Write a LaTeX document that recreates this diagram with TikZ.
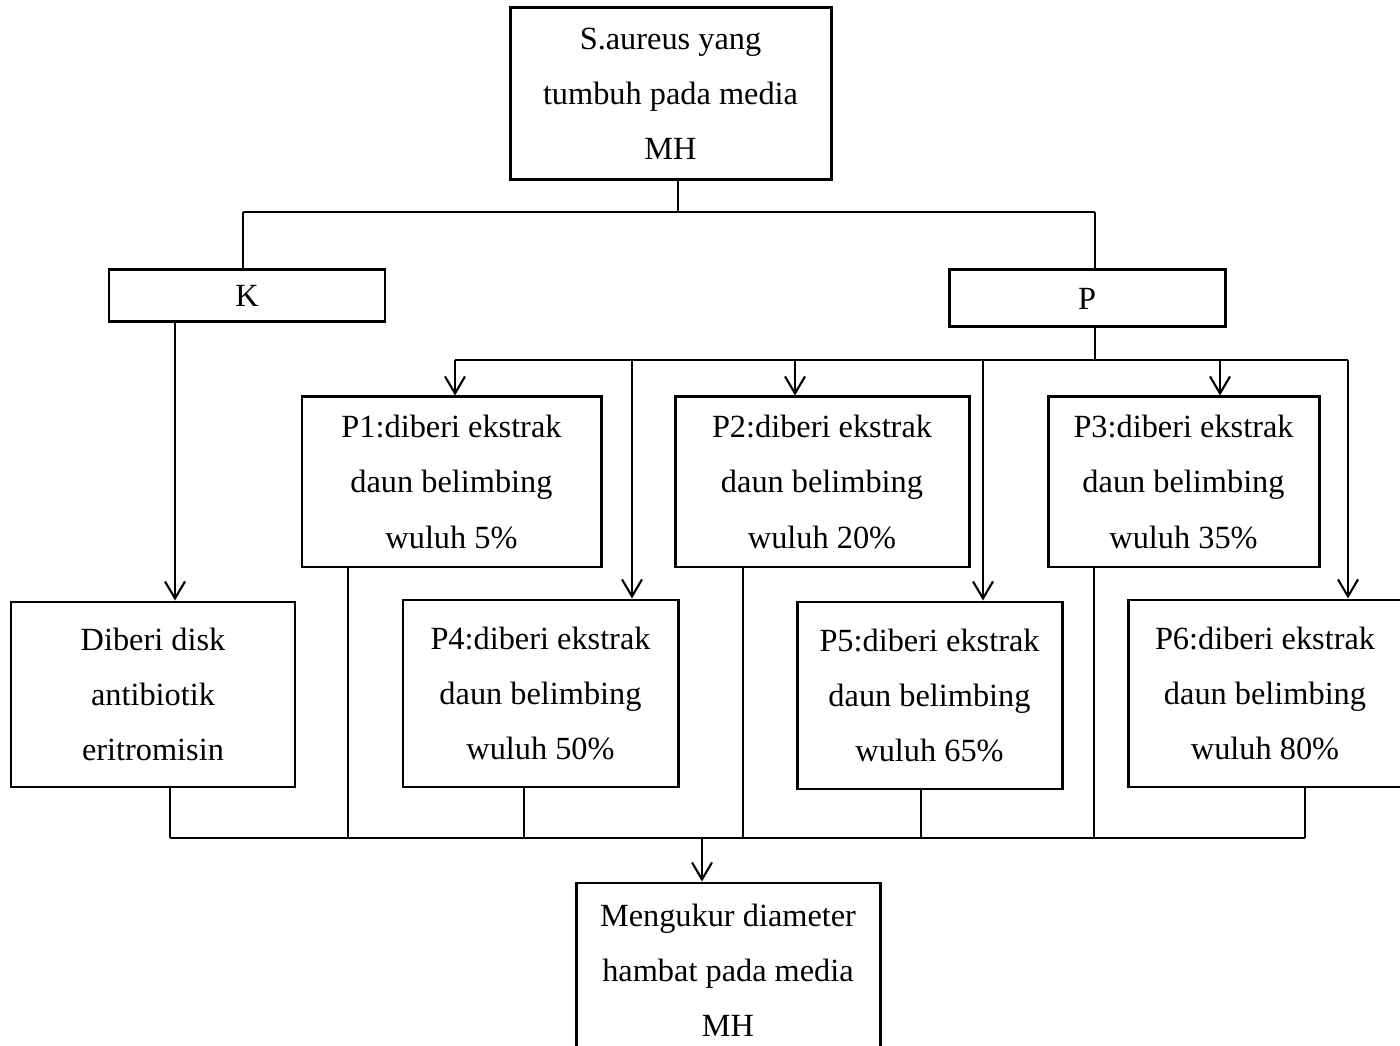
\documentclass[tikz,border=0pt]{standalone}
\usepackage{fontspec}
\setmainfont{Liberation Serif}
\usetikzlibrary{arrows.meta}
\tikzset{
  block/.style={draw, line width=0.85pt, align=center, inner sep=0pt,
                font=\fontsize{9.2}{15.65}\selectfont},
  link/.style={line width=0.6pt},
  flow/.style={link, -{Straight Barb[length=1.7mm, width=2mm]}},
}

\begin{document}
\begin{tikzpicture}
  \useasboundingbox (0,0) rectangle (14,-10.46);

  \node[block, minimum width=3.21cm, minimum height=1.72cm] (top) at (6.705,-0.94)
    {S.aureus yang\\tumbuh pada media\\MH};
  \node[block, minimum width=2.76cm, minimum height=0.52cm] (K) at (2.47,-2.96) {K};
  \node[block, minimum width=2.76cm, minimum height=0.57cm] (P) at (10.87,-2.985) {P};

  \node[block, minimum width=2.99cm, minimum height=1.70cm] (P1) at (4.515,-4.82)
    {P1:diberi ekstrak\\daun belimbing\\wuluh 5\%};
  \node[block, minimum width=2.94cm, minimum height=1.70cm] (P2) at (8.22,-4.82)
    {P2:diberi ekstrak\\daun belimbing\\wuluh 20\%};
  \node[block, minimum width=2.71cm, minimum height=1.70cm] (P3) at (11.835,-4.82)
    {P3:diberi ekstrak\\daun belimbing\\wuluh 35\%};

  \node[block, minimum width=2.84cm, minimum height=1.85cm] (disk) at (1.53,-6.945)
    {Diberi disk\\antibiotik\\eritromisin};
  \node[block, minimum width=2.75cm, minimum height=1.87cm] (P4) at (5.405,-6.935)
    {P4:diberi ekstrak\\daun belimbing\\wuluh 50\%};
  \node[block, minimum width=2.65cm, minimum height=1.87cm] (P5) at (9.295,-6.955)
    {P5:diberi ekstrak\\daun belimbing\\wuluh 65\%};
  \node[block, minimum width=2.74cm, minimum height=1.87cm] (P6) at (12.65,-6.935)
    {P6:diberi ekstrak\\daun belimbing\\wuluh 80\%};

  \node[block, minimum width=3.04cm, minimum height=1.74cm] (ukur) at (7.28,-9.70)
    {Mengukur diameter\\hambat pada media\\MH};

  \coordinate (tj) at (6.78,-2.12);
  \coordinate (kj) at (2.43,-2.12);
  \coordinate (pj) at (10.95,-2.12);
  \draw[link] (top.south -| tj) -- (tj);
  \draw[link] (kj) -- (pj);
  \draw[link] (kj) -- (kj |- K.north);
  \draw[link] (pj) -- (pj |- P.north);

  \coordinate (kd) at (1.75,0);
  \draw[flow] (K.south -| kd) -- (disk.north -| kd);

  \coordinate (pb) at (10.95,-3.60);
  \coordinate (b1) at (4.55,-3.60);
  \coordinate (b2) at (7.95,-3.60);
  \coordinate (b3) at (12.20,-3.60);
  \coordinate (b4) at (6.32,-3.60);
  \coordinate (b5) at (9.83,-3.60);
  \coordinate (b6) at (13.48,-3.60);
  \draw[link] (P.south -| pb) -- (pb);
  \draw[link] (b1) -- (b6);
  \foreach \i in {1,...,6}
    \draw[flow] (b\i) -- (b\i |- P\i.north);

  \coordinate (d0) at (1.70,-8.38);
  \coordinate (d1) at (3.48,-8.38);
  \coordinate (d2) at (7.43,-8.38);
  \coordinate (d3) at (10.94,-8.38);
  \coordinate (d4) at (5.24,-8.38);
  \coordinate (d5) at (9.21,-8.38);
  \coordinate (d6) at (13.05,-8.38);
  \draw[link] (d0) -- (d6);
  \draw[link] (disk.south -| d0) -- (d0);
  \foreach \i in {1,...,6}
    \draw[link] (P\i.south -| d\i) -- (d\i);

  \coordinate (dm) at (7.02,-8.38);
  \draw[flow] (dm) -- (dm |- ukur.north);
\end{tikzpicture}
\end{document}
